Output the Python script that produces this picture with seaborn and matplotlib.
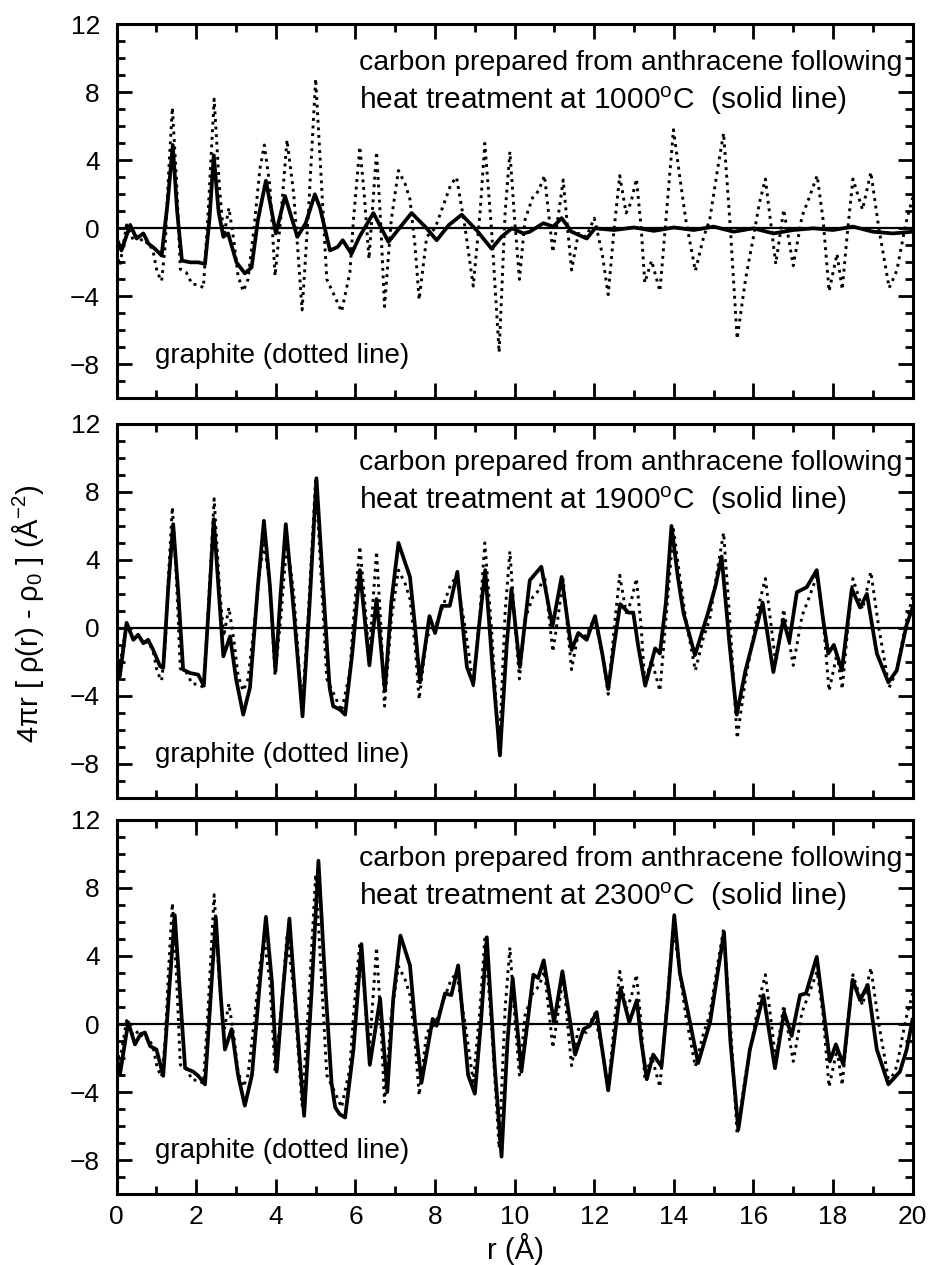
import matplotlib
matplotlib.use("Agg")
import matplotlib.pyplot as plt
from matplotlib.ticker import MultipleLocator
import seaborn as sns

# ---------------- data ----------------
r_graphite = [0.0, 0.08, 0.25, 0.42, 0.55, 0.68, 0.8, 0.92, 1.02, 1.13, 1.22, 1.3, 1.4, 1.5, 1.6,
              1.75, 1.9, 2.05, 2.18, 2.3, 2.45, 2.58, 2.69, 2.82, 2.95, 3.05, 3.18, 3.3, 3.45, 3.6,
              3.71, 3.85, 3.98, 4.12, 4.28, 4.45, 4.66, 4.82, 5.0, 5.15, 5.28, 5.44, 5.65, 5.86,
              5.95, 6.11, 6.22, 6.34, 6.44, 6.53, 6.63, 6.73, 6.9, 7.08, 7.25, 7.37, 7.5, 7.6,
              7.79, 8.0, 8.2, 8.4, 8.54, 8.75, 8.96, 9.13, 9.25, 9.42, 9.61, 9.76, 9.88, 10.0,
              10.12, 10.26, 10.45, 10.6, 10.75, 10.87, 10.96, 11.1, 11.22, 11.33, 11.43, 11.6,
              11.8, 12.0, 12.2, 12.35, 12.5, 12.64, 12.8, 12.92, 13.06, 13.18, 13.27, 13.44,
              13.65, 13.8, 13.99, 14.15, 14.3, 14.54, 14.75, 14.9, 15.1, 15.25, 15.42, 15.59,
              15.8, 16.0, 16.15, 16.3, 16.45, 16.56, 16.76, 17.0, 17.22, 17.4, 17.6, 17.75, 17.9,
              18.1, 18.23, 18.37, 18.5, 18.74, 18.95, 19.15, 19.41, 19.6, 19.83, 20.0]
v_graphite = [-1.4, -2.2, 0.2, -0.7, -0.4, -0.9, -0.8, -1.4, -2.6, -3.1, -1.0, 3.0, 7.1, 3.0, -2.4,
              -2.6, -3.3, -3.3, -3.5, 1.0, 7.6, 2.5, -0.5, 1.2, -0.8, -2.8, -3.7, -3.0, 0.0, 3.5,
              4.9, 2.5, -2.8, 0.5, 5.2, 2.0, -4.8, 1.0, 8.8, 2.5, -3.0, -3.8, -4.9, -2.6,
              0.5, 4.8, 2.0, -1.8, 1.5, 4.5, 0.5, -4.6, 0.5, 3.4, 2.6, 1.7, -1.1, -4.2,
              -0.5, 0.0, 1.3, 2.6, 3.0, 0.1, -3.4, 0.9, 5.0, -0.1, -7.3, 0.9, 4.5, 0.5,
              -3.0, 0.5, 1.8, 2.2, 3.1, 0.5, -1.4, 0.8, 2.85, 0.0, -2.45, -0.3,
              -0.5, 0.6, -1.5, -3.9, 0.0, 3.1, 0.9, 1.5, 2.9, 0.0, -3.2, -1.9,
              -3.7, 0.5, 5.8, 3.0, 0.5, -2.5, -0.5, 0.5, 3.5, 5.6, 0.0, -6.5,
              -3.0, -0.5, 1.5, 2.9, 0.0, -2.1, 1.1, -2.2, 0.7, 1.8, 3.1, 0.5, -3.7,
              -1.5, -3.6, 0.0, 2.9, 1.1, 3.3, 0.0, -3.5, -2.5, 0.3, 1.8]

r_1000 = [0.0, 0.12, 0.34, 0.5, 0.67, 0.8, 0.96, 1.13, 1.28, 1.41, 1.52, 1.64, 1.85, 2.05, 2.22,
          2.33, 2.44, 2.56, 2.68, 2.8, 3.01, 3.22, 3.39, 3.55, 3.75, 4.0, 4.23, 4.54, 4.75, 4.98,
          5.11, 5.36, 5.55, 5.68, 5.9, 6.1, 6.45, 6.83, 7.1, 7.41, 7.79, 8.04, 8.35, 8.67, 9.04,
          9.42, 9.67, 9.93, 10.22, 10.38, 10.72, 10.97, 11.18, 11.43, 11.81, 12.02, 12.5, 13.0,
          13.5, 14.0, 14.5, 15.0, 15.5, 16.0, 16.5, 17.0, 17.5, 18.0, 18.5, 19.0, 19.5, 20.0]
v_1000 = [-0.6, -1.3, 0.2, -0.6, -0.3, -0.9, -1.2, -1.6, 1.5, 4.9, 1.0, -1.9, -2.0, -2.0, -2.1,
          0.5, 4.3, 1.0, -0.5, -0.3, -2.0, -2.65, -2.3, 0.5, 2.8, -0.3, 1.9, -0.5, 0.3, 2.0,
          1.2, -1.3, -1.1, -0.7, -1.5, -0.5, 0.9, -0.8, 0.0, 0.9, 0.0, -0.7, 0.2, 0.8, -0.1,
          -1.2, -0.5, 0.0, -0.3, -0.2, 0.3, 0.1, 0.6, -0.2, -0.6, 0.0, -0.1, 0.05,
          -0.15, 0.05, -0.1, 0.1, -0.2, 0.0, -0.3, -0.1, 0.0, -0.1, 0.1, -0.2, -0.3, -0.2]

r_1900 = [0.0, 0.08, 0.25, 0.42, 0.54, 0.67, 0.79, 0.92, 1.09, 1.17, 1.3, 1.42, 1.55, 1.67, 1.84,
          2.05, 2.19, 2.32, 2.44, 2.57, 2.68, 2.85, 3.0, 3.18, 3.35, 3.55, 3.7, 3.85, 3.99, 4.12,
          4.25, 4.45, 4.67, 4.85, 5.02, 5.2, 5.35, 5.44, 5.61, 5.74, 5.92, 6.11, 6.35, 6.53,
          6.74, 6.9, 7.08, 7.37, 7.5, 7.62, 7.86, 8.0, 8.17, 8.37, 8.56, 8.8, 8.96, 9.1, 9.26,
          9.45, 9.63, 9.8, 9.92, 10.13, 10.38, 10.67, 10.95, 11.18, 11.43, 11.6, 11.81, 12.02,
          12.2, 12.35, 12.5, 12.65, 12.86, 12.98, 13.1, 13.28, 13.53, 13.65, 13.8, 13.94, 14.1,
          14.24, 14.53, 14.86, 15.05, 15.2, 15.4, 15.58, 15.8, 16.0, 16.23, 16.5, 16.75, 16.9,
          17.09, 17.34, 17.59, 17.75, 17.88, 18.02, 18.22, 18.47, 18.68, 18.85, 19.1, 19.39,
          19.6, 19.85, 20.0]
v_1900 = [-1.8, -2.85, 0.3, -0.7, -0.4, -0.9, -0.7, -1.3, -2.25, -2.35, 2.5, 6.1, 2.0, -2.45, -2.65,
          -2.75, -3.4, 1.5, 6.4, 2.0, -1.67, -0.5, -3.0, -5.1, -3.5, 2.5, 6.3, 2.5, -2.55, 2.0,
          6.1, 1.0, -5.2, 1.5, 8.8, 2.0, -3.5, -4.6, -4.8, -5.1, -1.5, 3.4, -2.2, 1.7,
          -3.7, 1.5, 5.0, 3.0, 0.0, -3.2, 0.7, -0.3, 1.3, 1.3, 3.3, -2.3, -3.3, 0.0, 3.4,
          -2.5, -7.5, -1.0, 2.3, -2.3, 2.8, 3.6, 0.1, 3.0, -1.3, -0.3, -0.7, 0.7,
          -1.5, -3.6, -1.0, 1.4, 0.9, 0.9, -1.0, -3.4, -1.2, -1.5, 1.5, 6.0, 3.0,
          0.9, -1.6, 0.9, 2.5, 4.2, -1.0, -5.1, -2.5, -0.7, 1.5, -2.6, 0.5, -0.8,
          2.1, 2.4, 3.4, 0.5, -1.5, -1.0, -2.5, 2.3, 1.2, 2.0, -1.5, -3.2,
          -2.5, 0.2, 1.2]

r_2300 = [0.0, 0.08, 0.29, 0.46, 0.6, 0.71, 0.84, 1.0, 1.17, 1.32, 1.46, 1.6, 1.72, 1.92, 2.05,
          2.22, 2.36, 2.49, 2.62, 2.72, 2.89, 3.05, 3.22, 3.4, 3.6, 3.75, 3.9, 4.02, 4.18, 4.34,
          4.5, 4.71, 4.9, 5.07, 5.25, 5.4, 5.49, 5.6, 5.74, 5.95, 6.15, 6.36, 6.62, 6.8, 6.95,
          7.13, 7.37, 7.5, 7.66, 7.94, 8.04, 8.25, 8.41, 8.58, 8.83, 9.0, 9.15, 9.3, 9.5, 9.67,
          9.82, 9.95, 10.17, 10.47, 10.59, 10.73, 10.99, 11.2, 11.52, 11.73, 11.89, 12.06, 12.2,
          12.35, 12.5, 12.66, 12.88, 13.07, 13.18, 13.32, 13.48, 13.69, 13.85, 14.01, 14.15,
          14.32, 14.61, 14.91, 15.1, 15.26, 15.42, 15.62, 15.91, 16.25, 16.54, 16.77, 16.96,
          17.17, 17.32, 17.59, 17.75, 17.92, 18.07, 18.26, 18.49, 18.68, 18.87, 19.1, 19.39,
          19.68, 19.85, 20.0]
v_2300 = [-1.8, -3.0, 0.1, -1.2, -0.6, -0.5, -1.3, -1.5, -3.05, 2.0, 6.4, 1.5, -2.6, -2.8, -3.05,
          -3.55, 1.5, 6.3, 1.5, -1.5, -0.3, -3.0, -4.8, -3.0, 2.5, 6.3, 2.5, -2.8, 2.0, 6.2,
          1.0, -5.4, 2.0, 9.6, 2.0, -3.5, -4.9, -5.3, -5.5, -1.5, 4.7, -2.4, 1.5, -4.0, 1.5,
          5.2, 3.45, 0.0, -3.45, 0.3, -0.1, 1.8, 1.7, 3.45, -3.0, -4.1, 0.0, 5.1, -2.5, -7.8,
          -1.0, 2.7, -2.8, 2.9, 2.7, 3.75, 0.1, 3.1, -1.8, -0.3, -0.1, 0.7, -1.5,
          -3.9, -1.0, 2.1, 0.1, 1.4, -1.0, -3.25, -1.8, -2.5, 1.5, 6.4, 3.0,
          1.1, -2.3, 0.1, 3.0, 5.4, -1.0, -6.2, -1.5, 1.7, -2.6, 0.7, -0.7,
          1.7, 1.8, 3.95, 1.0, -2.2, -1.2, -2.4, 2.6, 1.4, 2.3, -1.5, -3.55,
          -2.8, -1.5, 0.3]

temperatures = ["1000", "1900", "2300"]
solid_r = [r_1000, r_1900, r_2300]
solid_v = [v_1000, v_1900, v_2300]

x_ticks = list(range(0, 21, 2))
y_ticks = [-8, -4, 0, 4, 8, 12]

# ---------------- style ----------------
sns.set_style("ticks")
plt.rcParams["font.family"] = ["Liberation Sans", "DejaVu Sans"]
plt.rcParams["mathtext.fontset"] = "custom"
plt.rcParams["mathtext.rm"] = "Liberation Sans"
plt.rcParams["mathtext.it"] = "Liberation Sans:italic"
plt.rcParams["mathtext.bf"] = "Liberation Sans:bold"
plt.rcParams["text.color"] = "black"
plt.rcParams["axes.labelcolor"] = "black"
plt.rcParams["xtick.color"] = "black"
plt.rcParams["ytick.color"] = "black"
plt.rcParams["xtick.labelcolor"] = "black"
plt.rcParams["ytick.labelcolor"] = "black"

fig = plt.figure(figsize=(9.31, 12.65), dpi=100)
left, width, height = 0.1253, 0.855, 0.2957
bottoms = [0.6851, 0.3692, 0.0561]

for i, (temp, rs, vs) in enumerate(zip(temperatures, solid_r, solid_v)):
    ax = fig.add_axes([left, bottoms[i], width, height])
    ax.axhline(0, color="black", lw=1.6, zorder=1)
    sns.lineplot(x=r_graphite, y=v_graphite, ax=ax, color="black", lw=2.1,
                 sort=False, estimator=None, zorder=2)
    ax.lines[-1].set_linestyle((0, (1.0, 1.6)))
    sns.lineplot(x=rs, y=vs, ax=ax, color="black", lw=2.7,
                 sort=False, estimator=None, zorder=3)

    ax.set_xlim(0, 20)
    ax.set_ylim(-10, 12)
    ax.set_xticks(x_ticks)
    ax.set_yticks(y_ticks)
    ax.xaxis.set_minor_locator(MultipleLocator(1))
    ax.yaxis.set_minor_locator(MultipleLocator(1))
    ax.tick_params(which="both", direction="in", top=True, right=True, width=2,
                   colors="black", labelcolor="black")
    ax.tick_params(which="major", length=11)
    ax.tick_params(which="minor", length=6)
    ax.tick_params(axis="y", labelsize=19, pad=12)
    ax.tick_params(axis="x", labelsize=19, pad=8)
    for sp in ax.spines.values():
        sp.set_linewidth(2.2)
        sp.set_color("black")
    ax.set_xlabel("")
    ax.set_ylabel("")
    if i < 2:
        ax.set_xticklabels([])

    ax.text(6.1, 9.3, "carbon prepared from anthracene following", fontsize=20.5,
            ha="left", va="baseline", color="black")
    ax.text(6.1, 7.0, "heat treatment at " + temp + r"$^{\mathrm{o}}$C  (solid line)",
            fontsize=21.5, ha="left", va="baseline", color="black")
    ax.text(0.96, -7.9, "graphite (dotted line)", fontsize=20, ha="left", va="baseline",
            color="black")

fig.text(0.5535, 0.0125, "r (Å)", fontsize=21, ha="center", va="center", color="black")
fig.text(0.03, 0.515, r"4πr [ ρ(r) - ρ$_0$ ] (Å$^{-2}$)", fontsize=21, rotation=90,
         ha="center", va="center", color="black")

fig.savefig("out.png", dpi=100)
